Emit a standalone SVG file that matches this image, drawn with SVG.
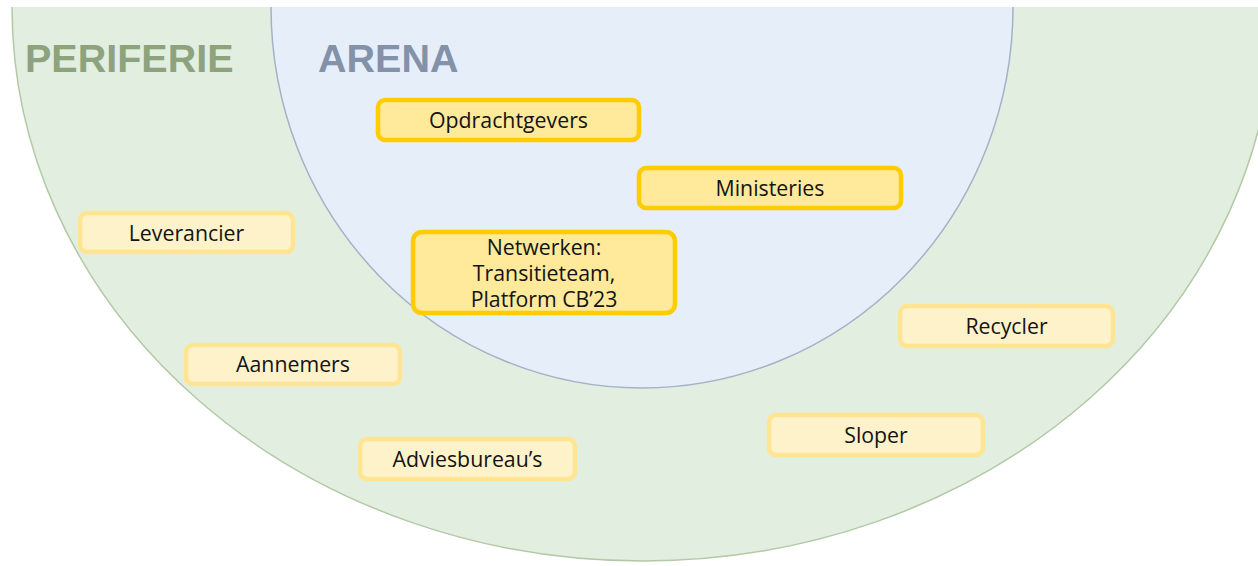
<svg xmlns="http://www.w3.org/2000/svg" width="1258" height="566" viewBox="0 0 1258 566">
  <style>
    .zone-title { font-family: "Liberation Sans", Arial, sans-serif; font-weight: bold; font-size: 39.5px; }
    .label { font-family: "Open Sans", "Noto Sans", sans-serif; font-size: 21.3px; fill: #141414; text-anchor: middle; }
    .core rect { fill: #ffe99b; stroke: #ffcc00; stroke-width: 4.5; }
    .edge rect { fill: #fdf2c9; stroke: #ffe592; stroke-width: 4.5; }
  </style>

  <rect width="1258" height="566" fill="#ffffff"/>

  <!-- outer zone: periphery (lower half of an ellipse) -->
  <g id="periferie">
    <path d="M 12 7 A 631 554 0 0 0 1274 7" fill="#e2eee0" stroke="#b3c9a6" stroke-width="1.5"/>
    <text class="zone-title" x="25" y="72" fill="#8da37e">PERIFERIE</text>
  </g>

  <!-- inner zone: arena -->
  <g id="arena">
    <path d="M 271 7 A 371 381 0 0 0 1013 7" fill="#e6eefa" stroke="#a3b2c6" stroke-width="1.5"/>
    <text class="zone-title" x="318" y="72" fill="#8391a9">ARENA</text>
  </g>

  <!-- arena actors -->
  <g id="opdrachtgevers" class="core">
    <rect x="378" y="100" width="261" height="40" rx="7"/>
    <text class="label" x="508.5" y="127.5">Opdrachtgevers</text>
  </g>
  <g id="ministeries" class="core">
    <rect x="639" y="168" width="262" height="40" rx="7"/>
    <text class="label" x="770" y="195.5">Ministeries</text>
  </g>
  <g id="netwerken" class="core">
    <rect x="413" y="232" width="262" height="81" rx="9"/>
    <text class="label" x="544" y="254.5">Netwerken:<tspan x="544" dy="26">Transitieteam,</tspan><tspan x="544" dy="26">Platform CB’23</tspan></text>
  </g>

  <!-- peripheral actors -->
  <g id="leverancier" class="edge">
    <rect x="80" y="213" width="213" height="39" rx="7"/>
    <text class="label" x="186.5" y="240.5">Leverancier</text>
  </g>
  <g id="aannemers" class="edge">
    <rect x="186" y="345" width="214" height="39" rx="7"/>
    <text class="label" x="293" y="372">Aannemers</text>
  </g>
  <g id="adviesbureaus" class="edge">
    <rect x="360" y="439" width="215" height="40" rx="7"/>
    <text class="label" x="467.5" y="466.5">Adviesbureau’s</text>
  </g>
  <g id="recycler" class="edge">
    <rect x="900" y="306" width="213" height="40" rx="7"/>
    <text class="label" x="1006.5" y="333.5">Recycler</text>
  </g>
  <g id="sloper" class="edge">
    <rect x="769" y="415" width="214" height="40" rx="7"/>
    <text class="label" x="876" y="442.5">Sloper</text>
  </g>

  <!-- no connectors in this diagram -->
  <g id="connectors"/>
</svg>
